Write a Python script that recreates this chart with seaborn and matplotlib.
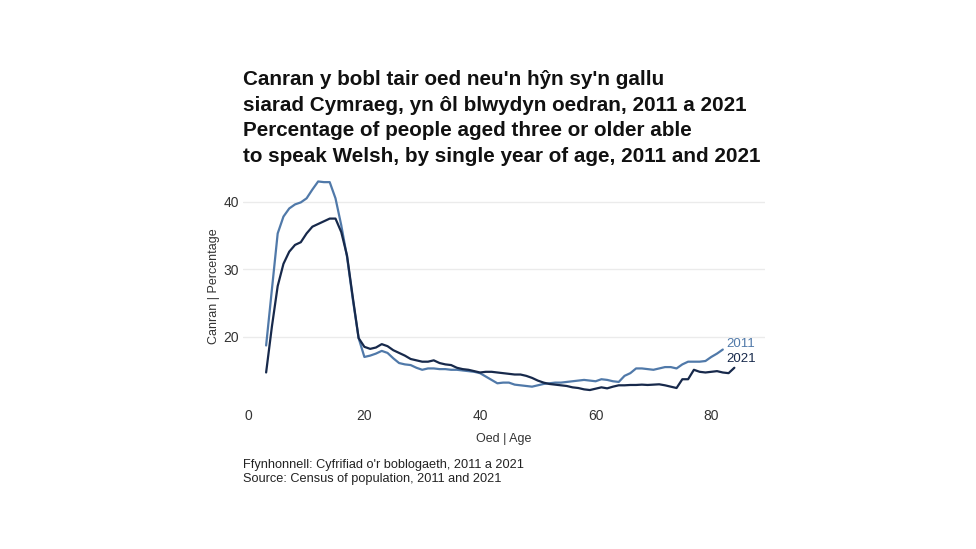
import numpy as np
import pandas as pd
import matplotlib
matplotlib.use("Agg")
import matplotlib.pyplot as plt
import seaborn as sns

ages_2011 = list(range(3, 83))
pct_2011 = [18.7, 27.0, 35.3, 37.8, 39.0, 39.6, 39.9, 40.5, 41.8, 43.0,
            42.9, 42.9, 40.5, 36.5, 31.8, 25.5, 19.8, 17.0, 17.2, 17.5,
            17.9, 17.6, 16.8, 16.1, 15.9, 15.8, 15.4, 15.1, 15.3, 15.3,
            15.2, 15.2, 15.1, 15.1, 15.0, 14.9, 14.8, 14.6, 14.1, 13.6,
            13.1, 13.2, 13.2, 12.9, 12.8, 12.7, 12.6, 12.8, 13.0, 13.1,
            13.2, 13.2, 13.3, 13.4, 13.5, 13.6, 13.5, 13.4, 13.7, 13.6,
            13.4, 13.3, 14.2, 14.6, 15.3, 15.3, 15.2, 15.1, 15.3, 15.5,
            15.5, 15.3, 15.9, 16.3, 16.3, 16.3, 16.4, 17.0, 17.5, 18.1]

ages_2021 = list(range(3, 85))
pct_2021 = [14.7, 21.5, 27.5, 30.8, 32.6, 33.6, 34.0, 35.3, 36.3, 36.7,
            37.1, 37.5, 37.5, 35.5, 32.0, 25.8, 19.8, 18.5, 18.2, 18.4,
            18.9, 18.6, 18.0, 17.6, 17.2, 16.7, 16.5, 16.3, 16.3, 16.5,
            16.1, 15.9, 15.8, 15.4, 15.2, 15.1, 14.9, 14.7, 14.8, 14.8,
            14.7, 14.6, 14.5, 14.4, 14.4, 14.2, 13.9, 13.5, 13.2, 13.0,
            12.9, 12.8, 12.7, 12.5, 12.4, 12.2, 12.1, 12.3, 12.5, 12.35,
            12.6, 12.8, 12.8, 12.85, 12.85, 12.9, 12.85, 12.9, 12.95, 12.8,
            12.6, 12.4, 13.7, 13.7, 15.1, 14.8, 14.7, 14.8, 14.9, 14.7,
            14.6, 15.4]

years = ["2011", "2021"]
colors = {"2011": "#5079a9", "2021": "#17294b"}

x_ticks = [0, 20, 40, 60, 80]
y_ticks = [20, 30, 40]

title_text = ("Canran y bobl tair oed neu'n hŷn sy'n gallu\n"
              "siarad Cymraeg, yn ôl blwydyn oedran, 2011 a 2021\n"
              "Percentage of people aged three or older able\n"
              "to speak Welsh, by single year of age, 2011 and 2021")
source_text = ("Ffynhonnell: Cyfrifiad o'r boblogaeth, 2011 a 2021\n"
               "Source: Census of population, 2011 and 2021")

df = pd.concat([
    pd.DataFrame({"age": ages_2011, "pct": pct_2011, "year": "2011"}),
    pd.DataFrame({"age": ages_2021, "pct": pct_2021, "year": "2021"}),
], ignore_index=True)

sns.set_theme(style="white")
plt.rcParams["font.family"] = ["Liberation Sans", "DejaVu Sans"]

fig = plt.figure(figsize=(9.76, 5.49), dpi=100)
ax = fig.add_axes([243 / 976, 1 - 400.5 / 549, 522 / 976, 229.5 / 549])

sns.lineplot(data=df, x="age", y="pct", hue="year", palette=colors,
             hue_order=years, linewidth=1.6, ax=ax, legend=False)

ax.set_xlim(-1.0, 89.3)
ax.set_ylim(10.55, 44.55)
ax.set_xticks(x_ticks)
ax.set_yticks(y_ticks)
ax.grid(axis="y", color="#ebebeb", linewidth=1.0)
ax.grid(axis="x", visible=False)
for s in ax.spines.values():
    s.set_visible(False)
ax.tick_params(axis="both", length=0, labelsize=10, labelcolor="#333333")
ax.tick_params(axis="x", pad=6)
ax.tick_params(axis="y", pad=3)
ax.set_xlabel("Oed | Age", fontsize=9, color="#333333", labelpad=7)
ax.set_ylabel("Canran | Percentage", fontsize=9, color="#333333", labelpad=2)

ax.text(82.6, 18.9, years[0], color=colors["2011"],
        fontsize=9.5, va="center", ha="left")
ax.text(82.6, 16.7, years[1], color=colors["2021"],
        fontsize=9.5, va="center", ha="left")

fig.text(243 / 976, 1 - 70 / 549, title_text, fontsize=14.9, fontweight="bold",
         ha="left", va="top", linespacing=1.44, color="#111111")
fig.text(243 / 976, 1 - 459 / 549, source_text, fontsize=9.2, ha="left", va="top",
         linespacing=1.2, color="#222222")

fig.savefig("out.png", dpi=100)
